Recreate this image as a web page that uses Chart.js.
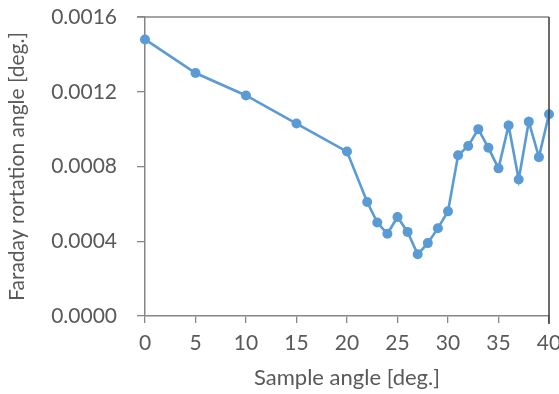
<!DOCTYPE html>
<html>
<head>
<meta charset="utf-8">
<script src="https://cdn.jsdelivr.net/npm/chart.js@4"></script>
<style>
  html, body { margin: 0; padding: 0; background: #ffffff; }
  #wrap { width: 559px; height: 394px; position: relative; }
</style>
</head>
<body>
<div id="wrap"><canvas id="chart"></canvas></div>
<script>
// Sample angle [deg.]
const sampleAngles = [0, 5, 10, 15, 20, 22, 23, 24, 25, 26, 27, 28, 29, 30, 31, 32, 33, 34, 35, 36, 37, 38, 39, 40];
// Faraday rotation angle [deg.]
const rotationAngles = [
  0.00148, 0.00130, 0.00118, 0.00103, 0.00088,
  0.00061, 0.00050, 0.00044, 0.00053, 0.00045,
  0.00033, 0.00039, 0.00047, 0.00056, 0.00086,
  0.00091, 0.00100, 0.00090, 0.00079, 0.00102,
  0.00073, 0.00104, 0.00085, 0.00108
];
const yTicks = [0, 0.0004, 0.0008, 0.0012, 0.0016];
const xLabelStep = 5;

const axisColor = '#868686';
const textColor = '#595959';
const seriesColor = '#5B9BD5';
const fontFamily = 'Lato, "Open Sans", "Liberation Sans", sans-serif';

// top and right frame lines around the plot area
const frame = {
  id: 'frame',
  afterDraw(chart) {
    const { ctx, chartArea: a } = chart;
    ctx.save();
    ctx.lineWidth = 1.5;
    ctx.strokeStyle = axisColor;
    ctx.beginPath();
    ctx.moveTo(a.left - 8, a.top);
    ctx.lineTo(a.right, a.top);
    ctx.stroke();
    ctx.strokeStyle = '#3a3a3a';
    ctx.beginPath();
    ctx.moveTo(a.right, a.top);
    ctx.lineTo(a.right, a.bottom + 8);
    ctx.stroke();
    ctx.restore();
  }
};

new Chart(document.getElementById('chart'), {
  type: 'scatter',
  data: {
    datasets: [{
      data: sampleAngles.map((x, i) => ({ x, y: rotationAngles[i] })),
      showLine: true,
      borderColor: seriesColor,
      backgroundColor: seriesColor,
      borderWidth: 2.6,
      pointRadius: 5,
      pointHoverRadius: 5,
      pointBorderWidth: 0,
      tension: 0,
      clip: false
    }]
  },
  plugins: [frame],
  options: {
    responsive: true,
    maintainAspectRatio: false,
    animation: false,
    events: [],
    layout: { padding: { top: 17, right: 10, left: 0, bottom: 0 } },
    plugins: { legend: { display: false }, tooltip: { enabled: false } },
    scales: {
      x: {
        type: 'linear',
        min: 0,
        max: 40,
        afterBuildTicks(scale) {
          scale.ticks = Array.from({ length: 41 }, (_, i) => ({ value: i }));
        },
        afterFit(scale) {
          scale.height = 78;
          scale.paddingLeft = 0;
          scale.paddingRight = 0;
        },
        ticks: {
          autoSkip: false,
          maxRotation: 0,
          padding: 8,
          color: textColor,
          font: { family: fontFamily, size: 21 },
          callback: (v) => (v % xLabelStep === 0 ? String(v) : null)
        },
        grid: {
          drawOnChartArea: false,
          drawTicks: true,
          tickLength: 7,
          color: axisColor,
          lineWidth: 1.3
        },
        border: { display: true, color: axisColor, width: 1.5 },
        title: {
          display: true,
          text: 'Sample angle [deg.]',
          color: textColor,
          font: { family: fontFamily, size: 22 },
          padding: { top: 0, bottom: 3 }
        }
      },
      y: {
        type: 'linear',
        min: 0,
        max: 0.0016,
        afterBuildTicks(scale) {
          scale.ticks = yTicks.map((value) => ({ value }));
        },
        afterFit(scale) {
          scale.width = 145;
          scale.paddingTop = 0;
          scale.paddingBottom = 0;
        },
        ticks: {
          padding: 20,
          color: textColor,
          font: { family: fontFamily, size: 21 },
          callback: (v) => Number(v).toFixed(4)
        },
        grid: {
          drawOnChartArea: false,
          drawTicks: true,
          tickLength: 8,
          color: axisColor,
          lineWidth: 1.3
        },
        border: { display: true, color: axisColor, width: 1.5 },
        title: {
          display: true,
          text: 'Faraday rortation angle [deg.]',
          color: textColor,
          font: { family: fontFamily, size: 21 },
          padding: { top: 5, bottom: 0 }
        }
      }
    }
  }
});
</script>
</body>
</html>
